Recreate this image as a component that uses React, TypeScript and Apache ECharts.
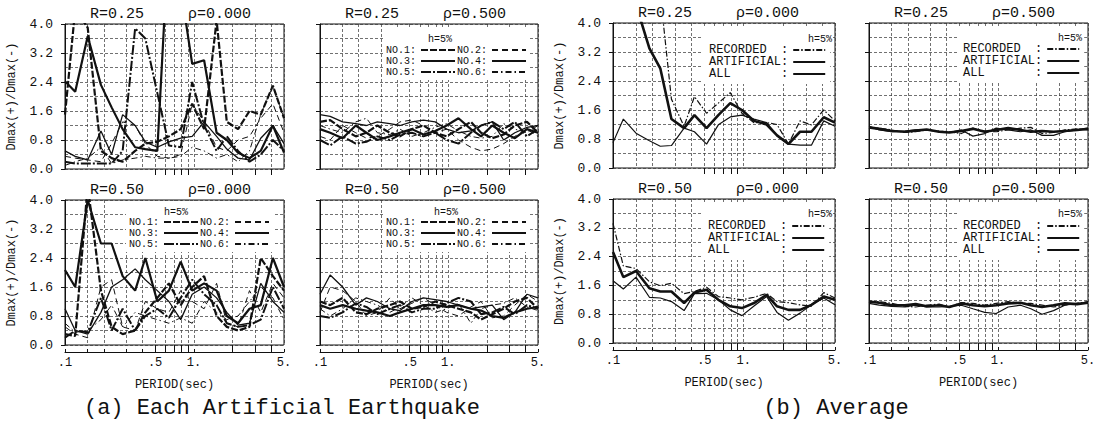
import React, { useEffect, useRef } from 'react';
import * as echarts from 'echarts';

// ---------- data ----------
const PERIODS = [0.1, 0.12, 0.15, 0.19, 0.23, 0.28, 0.35, 0.42, 0.52, 0.64, 0.79, 0.97, 1.2, 1.5, 1.8, 2.2, 2.7, 3.3, 4.1, 5.0];
const X_LABEL_VALUES = [0.1, 0.5, 1, 5];
const X_LABEL_TEXT = ['.1', '.5', '1.', '5.'];
const X_GRID_VALUES = [0.1, 0.15, 0.2, 0.3, 0.4, 0.5, 0.6, 0.7, 0.8, 0.9, 1, 2, 3, 4, 5];
const X_TOP_TICKS = [0.5, 0.6, 0.7, 0.8, 0.9, 2, 3, 4];
const NAMES_A = ['NO.1', 'NO.2', 'NO.3', 'NO.4', 'NO.5', 'NO.6'];
const NAMES_B = ['RECORDED', 'ARTIFICIAL', 'ALL'];

// (a) Each artificial earthquake, R=0.25, rho=0.000
const A_R25_P000 = [
  [1.5, 4.4, 3.9, 0.5, 0.3, 0.2, 0.5, 0.7, 0.75, 0.9, 1.1, 1.8, 1.1, 4.1, 1.3, 1.1, 1.6, 1.5, 2.3, 1.4],
  [0.35, 0.3, 0.25, 0.2, 0.7, 1.3, 1.2, 0.7, 0.35, 0.3, 0.4, 1.8, 1.3, 0.6, 0.5, 0.8, 0.9, 1.4, 1.8, 1.0],
  [2.42, 2.13, 3.66, 2.32, 1.7, 1.1, 0.6, 0.55, 0.5, 6.5, 5.0, 2.9, 3.0, 1.0, 0.8, 0.45, 0.3, 0.5, 1.2, 0.45],
  [0.5, 0.35, 0.25, 1.05, 0.4, 1.5, 1.2, 0.75, 0.6, 0.75, 0.85, 0.9, 1.3, 0.9, 0.55, 0.3, 0.25, 0.85, 1.2, 0.7],
  [0.2, 0.15, 0.15, 0.15, 0.15, 0.5, 3.88, 3.6, 2.1, 0.65, 0.6, 2.4, 1.2, 0.5, 0.9, 0.5, 0.2, 0.4, 0.8, 0.5],
  [0.1, 0.2, 0.3, 0.6, 0.15, 0.25, 0.3, 0.35, 0.3, 0.3, 0.35, 0.6, 0.5, 0.3, 0.4, 0.2, 0.5, 1.5, 2.3, 1.4],
];
// R=0.25, rho=0.500
const A_R25_P500 = [
  [1.3, 1.35, 1.1, 0.9, 1.0, 1.2, 1.0, 0.9, 1.1, 1.2, 1.0, 0.9, 1.1, 1.3, 1.0, 0.85, 0.95, 1.2, 1.3, 1.0],
  [0.9, 0.8, 1.2, 1.0, 0.85, 0.9, 1.1, 1.3, 1.35, 1.2, 1.0, 1.1, 0.8, 0.6, 0.5, 0.55, 0.7, 0.9, 1.1, 0.9],
  [1.1, 1.0, 0.85, 1.2, 1.0, 0.8, 0.9, 1.0, 1.1, 0.95, 1.05, 1.2, 1.4, 1.1, 0.9, 1.2, 1.0, 0.85, 1.1, 1.0],
  [1.5, 1.45, 1.3, 1.25, 1.2, 1.3, 1.25, 1.2, 1.3, 1.35, 1.3, 1.1, 1.0, 1.05, 1.2, 1.3, 0.8, 1.0, 1.15, 1.2],
  [0.8, 0.65, 0.9, 0.7, 0.75, 0.9, 0.8, 0.95, 1.0, 0.9, 1.0, 0.8, 0.7, 1.0, 1.2, 1.3, 1.1, 1.3, 0.9, 1.1],
  [1.2, 1.1, 1.0, 1.3, 1.4, 1.0, 0.95, 1.1, 0.9, 1.0, 1.15, 1.25, 1.05, 0.9, 0.85, 0.9, 1.25, 1.1, 1.0, 1.2],
];
// R=0.50, rho=0.000
const A_R50_P000 = [
  [0.3, 0.25, 4.4, 1.5, 0.5, 0.3, 0.4, 0.9, 1.3, 1.7, 1.1, 1.6, 1.9, 0.8, 0.5, 0.4, 0.5, 2.4, 1.9, 1.5],
  [0.5, 0.3, 0.2, 1.6, 1.8, 0.5, 0.4, 1.2, 1.0, 0.9, 1.5, 1.2, 1.0, 1.7, 0.6, 0.5, 1.5, 0.9, 1.7, 1.3],
  [2.07, 1.6, 4.0, 2.8, 2.8, 1.9, 1.5, 2.4, 1.2, 1.5, 2.3, 1.5, 1.7, 1.5, 0.8, 0.6, 1.0, 1.1, 2.4, 1.6],
  [1.0, 0.4, 0.3, 0.9, 1.6, 1.8, 2.1, 1.8, 1.5, 1.2, 0.7, 1.4, 1.6, 1.3, 0.9, 0.55, 0.6, 1.7, 1.2, 0.9],
  [0.2, 0.4, 0.35, 1.3, 0.4, 1.0, 0.4, 0.8, 1.0, 0.75, 1.3, 1.8, 1.4, 1.1, 0.6, 0.5, 0.55, 0.7, 1.6, 1.0],
  [0.6, 0.35, 0.4, 0.7, 1.1, 0.5, 0.9, 0.8, 0.7, 0.6, 0.75, 0.6, 1.2, 0.9, 0.7, 0.8, 1.2, 1.6, 1.3, 0.7],
];
// R=0.50, rho=0.500
const A_R50_P500 = [
  [1.2, 1.1, 1.3, 0.9, 0.85, 1.0, 1.1, 1.2, 1.0, 1.05, 1.2, 1.1, 1.0, 0.9, 0.7, 0.85, 1.0, 1.2, 1.3, 1.0],
  [0.9, 1.6, 1.5, 1.2, 0.8, 0.9, 1.3, 1.0, 1.15, 1.3, 1.1, 0.9, 0.8, 1.05, 1.2, 0.75, 0.8, 1.1, 1.4, 1.2],
  [1.1, 1.0, 1.1, 1.0, 0.95, 0.9, 0.8, 0.9, 1.0, 1.1, 1.1, 1.05, 1.1, 1.0, 0.95, 0.8, 0.75, 0.9, 1.0, 1.05],
  [1.4, 1.93, 1.6, 1.1, 1.3, 1.2, 1.0, 0.95, 1.2, 1.3, 1.25, 1.2, 1.1, 1.0, 1.05, 1.1, 0.7, 0.9, 1.4, 1.3],
  [0.8, 0.75, 0.9, 1.15, 1.05, 0.85, 1.0, 1.1, 0.9, 1.0, 1.0, 1.15, 1.3, 1.2, 0.85, 0.9, 1.05, 0.85, 1.1, 1.0],
  [1.0, 0.8, 1.0, 1.3, 1.2, 1.1, 0.9, 1.05, 1.3, 1.1, 0.9, 1.0, 1.15, 0.6, 1.0, 1.1, 1.15, 1.3, 1.05, 0.95],
];
// (b) Average: RECORDED, ARTIFICIAL, ALL
const B_R25_P000 = [
  [9, 8.5, 8, 6.5, 4.8, 1.9, 1.15, 1.97, 1.51, 1.79, 2.08, 1.51, 1.25, 1.25, 1.2, 0.66, 1.3, 1.19, 1.6, 1.3],
  [0.7, 1.35, 0.96, 0.75, 0.6, 0.62, 1.1, 1.0, 0.66, 1.19, 1.41, 1.46, 1.35, 1.25, 0.89, 0.66, 0.63, 0.63, 1.3, 1.15],
  [7, 5.8, 4.5, 3.3, 2.75, 1.35, 1.1, 1.46, 1.1, 1.46, 1.79, 1.6, 1.3, 1.2, 0.9, 0.66, 1.0, 1.0, 1.4, 1.25],
];
const B_R25_P500 = [
  [1.1, 1.1, 1.05, 0.98, 1.0, 1.05, 1.02, 1.0, 0.95, 1.1, 1.02, 1.0, 1.05, 1.1, 1.12, 0.95, 0.98, 1.05, 1.08, 1.05],
  [1.15, 1.05, 1.0, 1.02, 1.05, 1.05, 1.0, 0.98, 1.05, 0.88, 0.95, 1.1, 1.05, 1.0, 1.05, 0.9, 0.9, 1.0, 1.05, 1.1],
  [1.12, 1.08, 1.02, 1.0, 1.03, 1.06, 1.0, 0.98, 1.02, 1.08, 1.0, 1.05, 1.1, 1.05, 1.0, 1.02, 1.0, 1.02, 1.05, 1.08],
];
const B_R50_P000 = [
  [3.32, 2.14, 2.07, 1.7, 1.59, 1.66, 1.37, 1.43, 1.55, 1.29, 1.25, 1.2, 1.27, 1.38, 1.15, 1.12, 1.06, 1.02, 1.4, 1.25],
  [1.73, 1.5, 1.83, 1.27, 1.25, 1.15, 0.9, 1.37, 1.38, 1.2, 0.92, 0.76, 1.03, 1.29, 0.85, 0.63, 0.83, 1.06, 1.25, 1.06],
  [2.53, 1.83, 2.0, 1.52, 1.43, 1.43, 1.11, 1.4, 1.48, 1.2, 1.02, 0.97, 1.11, 1.34, 1.02, 0.92, 0.92, 1.06, 1.29, 1.2],
];
const B_R50_P500 = [
  [1.12, 1.15, 1.1, 1.02, 1.0, 1.05, 1.08, 1.0, 1.12, 1.1, 1.05, 1.1, 1.15, 1.1, 1.1, 1.05, 1.0, 1.05, 1.1, 1.15],
  [1.1, 1.05, 1.02, 1.0, 1.05, 1.0, 1.0, 1.02, 1.05, 0.95, 0.85, 0.82, 1.0, 1.05, 0.95, 0.8, 0.9, 1.05, 1.1, 1.1],
  [1.15, 1.12, 1.05, 1.05, 1.08, 1.02, 1.05, 1.0, 1.1, 1.05, 1.02, 1.05, 1.1, 1.12, 1.05, 1.0, 1.05, 1.1, 1.08, 1.12],
];

// ---------- styles / layout ----------
const FONT = '"Liberation Mono", "DejaVu Sans Mono", monospace';
const INK = '#111';
const STYLE_A = [
  { width: 2.2, type: [7, 2] },
  { width: 1, type: [6, 4] },
  { width: 2.2, type: 'solid' },
  { width: 1.3, type: 'solid' },
  { width: 2, type: [10, 2, 2, 2] },
  { width: 1, type: [6, 3, 1.5, 3] },
];
const STYLE_B = [
  { width: 1.2, type: [6, 2, 1.5, 2] },
  { width: 1.2, type: 'solid' },
  { width: 2.6, type: 'solid' },
];

type Panel = {
  grid: { left: number; top: number; width: number; height: number };
  bottom: boolean;
  yLabels: boolean;
  r: string;
  rho: string;
  kind: 'a' | 'b';
  values: number[][];
  legend: null | { left: number; top: number; hx: number; hy: number };
};

const PANELS: Panel[] = [
  { grid: { left: 65, top: 24, width: 219, height: 145 }, bottom: false, yLabels: true, r: 'R=0.25', rho: 'ρ=0.000', kind: 'a', values: A_R25_P000, legend: null },
  { grid: { left: 320, top: 24, width: 218, height: 145 }, bottom: false, yLabels: false, r: 'R=0.25', rho: 'ρ=0.500', kind: 'a', values: A_R25_P500, legend: { left: 383, top: 29, hx: 440, hy: 39 } },
  { grid: { left: 65, top: 200, width: 219, height: 145 }, bottom: true, yLabels: true, r: 'R=0.50', rho: 'ρ=0.000', kind: 'a', values: A_R50_P000, legend: { left: 126, top: 201, hx: 176, hy: 212 } },
  { grid: { left: 320, top: 200, width: 218, height: 145 }, bottom: true, yLabels: false, r: 'R=0.50', rho: 'ρ=0.500', kind: 'a', values: A_R50_P500, legend: { left: 383, top: 201, hx: 446, hy: 212 } },
  { grid: { left: 613, top: 23, width: 222, height: 145 }, bottom: false, yLabels: true, r: 'R=0.25', rho: 'ρ=0.000', kind: 'b', values: B_R25_P000, legend: { left: 703, top: 27, hx: 832, hy: 39 } },
  { grid: { left: 869, top: 23, width: 219, height: 145 }, bottom: false, yLabels: false, r: 'R=0.25', rho: 'ρ=0.500', kind: 'b', values: B_R25_P500, legend: { left: 957, top: 26, hx: 1082, hy: 38 } },
  { grid: { left: 613, top: 199, width: 222, height: 144 }, bottom: true, yLabels: true, r: 'R=0.50', rho: 'ρ=0.000', kind: 'b', values: B_R50_P000, legend: { left: 702, top: 203, hx: 832, hy: 214 } },
  { grid: { left: 869, top: 199, width: 219, height: 144 }, bottom: true, yLabels: false, r: 'R=0.50', rho: 'ρ=0.500', kind: 'b', values: B_R50_P500, legend: { left: 957, top: 203, hx: 1082, hy: 214 } },
];

const GRID_LINE = { color: '#333', width: 0.7, type: [3, 2] as number[] };

const xLabelFormatter = (v: number) => {
  const i = X_LABEL_VALUES.findIndex((t) => Math.abs(t - v) / t < 1e-3);
  return i >= 0 ? X_LABEL_TEXT[i] : '';
};

function buildOption() {
  const grid: any[] = [];
  const xAxis: any[] = [];
  const xAxisTop: any[] = [];
  const yAxis: any[] = [];
  const series: any[] = [];
  const title: any[] = [];
  const legend: any[] = [];
  const graphic: any[] = [];

  PANELS.forEach((p, i) => {
    grid.push({ ...p.grid, show: true, borderColor: INK, borderWidth: 1, backgroundColor: 'transparent' });
    xAxis.push({
      type: 'log', logBase: 10, min: 0.1, max: 5, gridIndex: i,
      offset: p.bottom ? 7 : 0,
      axisLine: { show: p.bottom, onZero: false, lineStyle: { color: INK, width: 1 } },
      axisTick: { show: p.bottom, inside: true, length: 3, customValues: X_GRID_VALUES, lineStyle: { color: INK } },
      axisLabel: { show: p.bottom, customValues: X_LABEL_VALUES, formatter: xLabelFormatter, fontFamily: FONT, fontSize: 12, color: INK, margin: 5 },
      splitLine: { show: true, lineStyle: GRID_LINE },
      name: p.bottom ? 'PERIOD(sec)' : '',
      nameLocation: 'middle', nameGap: 27,
      nameTextStyle: { fontFamily: FONT, fontSize: 12, color: INK },
    });
    xAxisTop.push({
      type: 'log', logBase: 10, min: 0.1, max: 5, gridIndex: i, position: 'top',
      axisLine: { show: false },
      axisTick: { show: true, inside: true, length: 6, customValues: X_TOP_TICKS, lineStyle: { color: INK, width: 1 } },
      axisLabel: { show: false },
      splitLine: { show: false },
    });
    yAxis.push({
      type: 'value', min: 0, max: 4, interval: 0.8, gridIndex: i,
      axisLine: { show: true, lineStyle: { color: INK, width: 1 } },
      axisTick: { show: true, length: 4, lineStyle: { color: INK } },
      axisLabel: { show: p.yLabels, formatter: (v: number) => v.toFixed(1), fontFamily: FONT, fontSize: 13, color: INK, margin: 12 },
      splitLine: { show: true, lineStyle: GRID_LINE },
      minorTick: { show: false, splitNumber: 2 },
      minorSplitLine: { show: true, lineStyle: GRID_LINE },
      name: p.yLabels ? 'Dmax(+)/Dmax(-)' : '',
      nameLocation: 'middle', nameRotate: 90, nameGap: 47,
      nameTextStyle: { fontFamily: FONT, fontSize: 12, color: INK },
    });
    const names = p.kind === 'a' ? NAMES_A : NAMES_B;
    const styles = p.kind === 'a' ? STYLE_A : STYLE_B;
    p.values.forEach((vals, k) => {
      series.push({
        type: 'line', name: names[k], xAxisIndex: i, yAxisIndex: i,
        data: PERIODS.map((x, j) => [x, vals[j]]),
        symbol: 'none', showSymbol: false, clip: true, silent: true, z: 3,
        lineStyle: { color: INK, width: styles[k].width, type: styles[k].type },
        itemStyle: { color: INK },
      });
    });
    const tStyle = { fontFamily: FONT, fontSize: 15, fontWeight: 'normal', color: INK };
    title.push({ text: p.r, left: p.grid.left + 25, top: p.grid.top - 17, padding: 0, textStyle: tStyle });
    title.push({ text: p.rho, left: p.grid.left + 123, top: p.grid.top - 17, padding: 0, textStyle: tStyle });

    if (p.legend) {
      if (p.kind === 'a') {
        legend.push({
          data: NAMES_A, left: p.legend.left, top: p.legend.top, orient: 'horizontal', width: 155,
          align: 'right', itemGap: 1, itemWidth: 34, itemHeight: 8, selectedMode: false,
          backgroundColor: '#fff', padding: [16, 3, 3, 3],
          formatter: '{name}:',
          textStyle: { fontFamily: FONT, fontSize: 10, color: INK, lineHeight: 9 },
          itemStyle: { opacity: 0 },
        });
        graphic.push({ type: 'text', x: p.legend.hx, y: p.legend.hy, z: 100, style: { text: 'h=5%', fontFamily: FONT, fontSize: 10, fill: INK, align: 'center', verticalAlign: 'middle' } });
      } else {
        legend.push({
          data: NAMES_B, left: p.legend.left, top: p.legend.top, orient: 'vertical',
          align: 'right', itemGap: 0, itemWidth: 32, itemHeight: 8, selectedMode: false,
          backgroundColor: '#fff', padding: [17, 4, 4, 6],
          formatter: (name: string) => name.padEnd(10, '\u00a0') + ':',
          textStyle: { fontFamily: FONT, fontSize: 12, color: INK, lineHeight: 10 },
          itemStyle: { opacity: 0 },
        });
        graphic.push({ type: 'text', x: p.legend.hx, y: p.legend.hy, z: 100, style: { text: 'h=5%', fontFamily: FONT, fontSize: 10, fill: INK, align: 'right', verticalAlign: 'middle' } });
      }
    }
  });

  graphic.push({ type: 'text', x: 282, y: 408, z: 100, style: { text: '(a) Each Artificial Earthquake', fontFamily: FONT, fontSize: 22, fill: INK, align: 'center', verticalAlign: 'middle' } });
  graphic.push({ type: 'text', x: 836, y: 408, z: 100, style: { text: '(b) Average', fontFamily: FONT, fontSize: 22, fill: INK, align: 'center', verticalAlign: 'middle' } });

  return {
    animation: false,
    backgroundColor: '#fff',
    textStyle: { fontFamily: FONT },
    grid, xAxis: [...xAxis, ...xAxisTop], yAxis, series, title, legend, graphic,
  };
}

export default function App() {
  const ref = useRef<HTMLDivElement>(null);
  useEffect(() => {
    if (!ref.current) return;
    const chart = echarts.init(ref.current, undefined, { renderer: 'svg' });
    chart.setOption(buildOption() as any);
    return () => chart.dispose();
  }, []);
  return <div ref={ref} style={{ position: 'absolute', left: 0, top: 0, width: 1111, height: 426 }} />;
}
